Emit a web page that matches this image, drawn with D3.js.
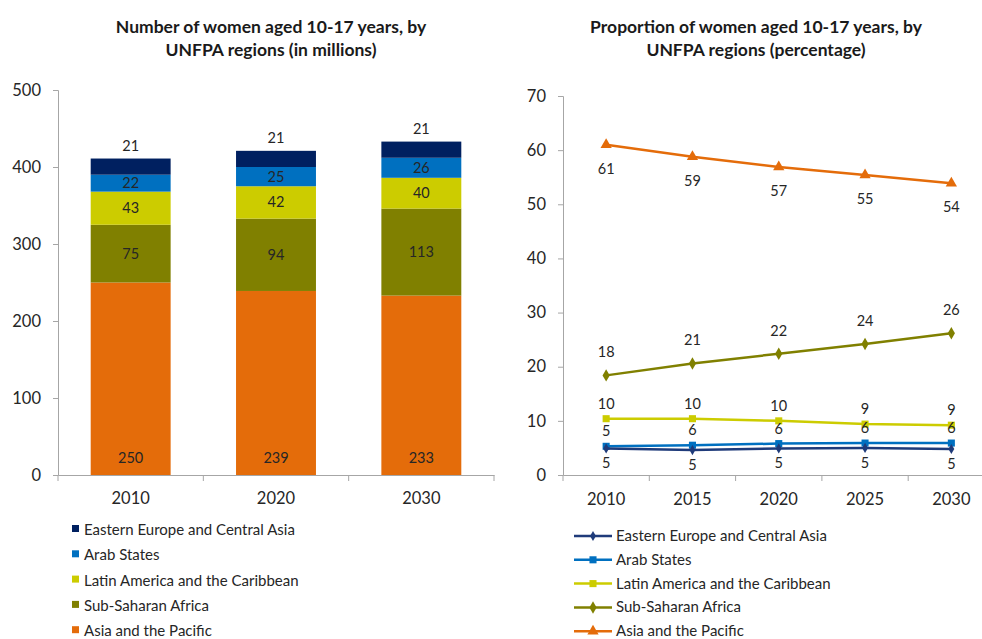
<!DOCTYPE html>
<html><head><meta charset="utf-8">
<script src="https://cdn.jsdelivr.net/npm/d3@7/dist/d3.min.js"></script>
<style>
body{margin:0;background:#fff;}
svg{display:block;font-family:Lato,"Open Sans",sans-serif;}
</style></head>
<body><svg id="c" width="982" height="639"></svg>
<script>
// ---- Data ----
const barYears = ["2010","2020","2030"];
const regions = ["Eastern Europe and Central Asia","Arab States","Latin America and the Caribbean","Sub-Saharan Africa","Asia and the Pacific"];
const colors = ["#002060","#0070C0","#CCCC00","#808000","#E46C0A"];
const lineColors = ["#1F3B7A","#0070C0","#CCCC00","#808000","#E46C0A"];
// bar values (millions)
const barEECA = [21,21,21];
const barArab = [22,25,26];
const barLAC  = [43,42,40];
const barSSA  = [75,94,113];
const barAsia = [250,239,233];
const barTicks = [0,100,200,300,400,500];
// line values (percentage)
const lineYears = ["2010","2015","2020","2025","2030"];
const pctEECA = [4.9,4.6,4.9,5.0,4.8];
const pctArab = [5.3,5.5,5.8,5.9,5.9];
const pctLAC  = [10.4,10.4,10.0,9.4,9.2];
const pctSSA  = [18.4,20.6,22.4,24.2,26.2];
const pctAsia = [61.0,58.8,56.9,55.4,53.9];
const lineTicks = [0,10,20,30,40,50,60,70];

const svg = d3.select("#c");
const axisCol = "#A6A6A6", textCol = "#262626";

// ---------- LEFT: stacked bar ----------
const barSeries = [barEECA,barArab,barLAC,barSSA,barAsia];
const L = {x0:58, x1:494, y0:475, y1:90};
const xb = d3.scaleBand().domain(barYears).range([L.x0,L.x1]).paddingInner(0.45).paddingOuter(0.225);
const xbOuter = d3.scaleBand().domain(barYears).range([L.x0,L.x1]);
const yb = d3.scaleLinear().domain([0,500]).range([L.y0,L.y1]);

const tbl = barYears.map((y,i)=>{const o={year:y}; regions.forEach((r,k)=>o[r]=barSeries[k][i]); return o;});
const stackOrder = regions.slice().reverse(); // Asia bottom
const stacked = d3.stack().keys(stackOrder)(tbl);

const gL = svg.append("g");
stacked.forEach(s=>{
  const k = regions.indexOf(s.key);
  gL.append("g").selectAll("rect").data(s).join("rect")
    .attr("x",d=>xb(d.data.year)).attr("width",xb.bandwidth())
    .attr("y",d=>yb(d[1])).attr("height",d=>yb(d[0])-yb(d[1]))
    .attr("fill",colors[k]);
  gL.append("g").selectAll("text").data(s).join("text")
    .attr("x",d=>xb(d.data.year)+xb.bandwidth()/2)
    .attr("y",d=>{
      if(k===0) return yb(d[1])-8;
      if(k===4) return yb(d[0])-12;
      return (yb(d[0])+yb(d[1]))/2+5;})
    .attr("text-anchor","middle").attr("font-size",14.5).attr("fill",textCol)
    .text(d=>d.data[s.key]);
});
// y axis
gL.append("g").attr("transform",`translate(${L.x0},0)`)
  .call(d3.axisLeft(yb).tickValues(barTicks).tickSize(5).tickPadding(12));
// x axis
gL.append("g").attr("transform",`translate(0,${L.y0})`)
  .call(d3.axisBottom(xbOuter).tickSize(0).tickPadding(17));
gL.append("g").selectAll("line").data([L.x0,...barYears.map(y=>xbOuter(y)+xbOuter.bandwidth())]).join("line")
  .attr("x1",d=>d).attr("x2",d=>d).attr("y1",L.y0).attr("y2",L.y0+6).attr("stroke",axisCol);

// ---------- RIGHT: line chart ----------
const lineSeries = [pctEECA,pctArab,pctLAC,pctSSA,pctAsia];
const R = {x0:563, x1:994.5, y0:475, y1:96};
const xl = d3.scaleBand().domain(lineYears).range([R.x0,R.x1]);
const xlc = d=>xl(d)+xl.bandwidth()/2;
const yl = d3.scaleLinear().domain([0,70]).range([R.y0,R.y1]);
const gR = svg.append("g");
gR.append("g").attr("transform",`translate(${R.x0},0)`)
  .call(d3.axisLeft(yl).tickValues(lineTicks).tickSize(5).tickPadding(12));
gR.append("g").attr("transform",`translate(0,${R.y0})`)
  .call(d3.axisBottom(xl).tickSize(0).tickPadding(18));
gR.append("g").selectAll("line").data([R.x0,...lineYears.slice(0,4).map(y=>xl(y)+xl.bandwidth())]).join("line")
  .attr("x1",d=>d).attr("x2",d=>d).attr("y1",R.y0).attr("y2",R.y0+6).attr("stroke",axisCol);

const symType = [d3.symbolDiamond, d3.symbolSquare, d3.symbolSquare, d3.symbolDiamond, d3.symbolTriangle];
const symSize = [30, 50, 50, 45, 55];
const labelDy = [20, -10, -10, -18, 29];
const line = d3.line().x((d,i)=>xlc(lineYears[i])).y(d=>yl(d));
const drawOrder = [4,3,2,1,0];
drawOrder.forEach(k=>{
  const vals = lineSeries[k];
  gR.append("path").datum(vals).attr("d",line).attr("fill","none")
    .attr("stroke",lineColors[k]).attr("stroke-width",2.5);
  gR.append("g").selectAll("path").data(vals).join("path")
    .attr("transform",(d,i)=>`translate(${xlc(lineYears[i])},${yl(d)})`)
    .attr("d",d3.symbol().type(symType[k]).size(symSize[k])).attr("fill",lineColors[k]);
});
drawOrder.forEach(k=>{
  const vals = lineSeries[k];
  gR.append("g").selectAll("text").data(vals).join("text")
    .attr("x",(d,i)=>xlc(lineYears[i])).attr("y",d=>yl(d)+labelDy[k])
    .attr("text-anchor","middle").attr("font-size",14.5).attr("fill",textCol)
    .text(d=>Math.round(d));
});

// axis styling
svg.selectAll(".domain").attr("stroke",axisCol);
svg.selectAll(".tick line").attr("stroke",axisCol);
svg.selectAll(".tick text").attr("font-size",16.5).attr("fill",textCol).attr("font-family","Lato, sans-serif");

// ---------- Titles ----------
function title(cx, lines){
  const t = svg.append("text").attr("text-anchor","middle").attr("font-weight","bold")
    .attr("font-size",17.5).attr("fill","#1a1a1a");
  lines.forEach((s,i)=>t.append("tspan").attr("x",cx).attr("y",33+i*23).text(s));
}
title(271,["Number of women aged 10-17 years, by","UNFPA regions (in millions)"]);
title(756,["Proportion  of women aged 10-17 years, by","UNFPA regions (percentage)"]);

// ---------- Legends ----------
const legL = svg.append("g").selectAll("g").data(regions).join("g")
  .attr("transform",(d,i)=>`translate(72,${530+i*25.3})`);
legL.append("rect").attr("x",0).attr("y",-5).attr("width",7).attr("height",7).attr("fill",(d,i)=>colors[i]);
legL.append("text").attr("x",12).attr("y",5).attr("font-size",15).attr("fill",textCol).text(d=>d);

const legR = svg.append("g").selectAll("g").data(regions).join("g")
  .attr("transform",(d,i)=>`translate(574,${536+i*23.8})`);
legR.append("line").attr("x1",0).attr("x2",38).attr("stroke",(d,i)=>lineColors[i]).attr("stroke-width",2.5);
legR.append("path").attr("transform","translate(19,0)")
  .attr("d",(d,i)=>d3.symbol().type(symType[i]).size(symSize[i])()).attr("fill",(d,i)=>lineColors[i]);
legR.append("text").attr("x",42).attr("y",5).attr("font-size",15).attr("fill",textCol).text(d=>d);
</script></body></html>
